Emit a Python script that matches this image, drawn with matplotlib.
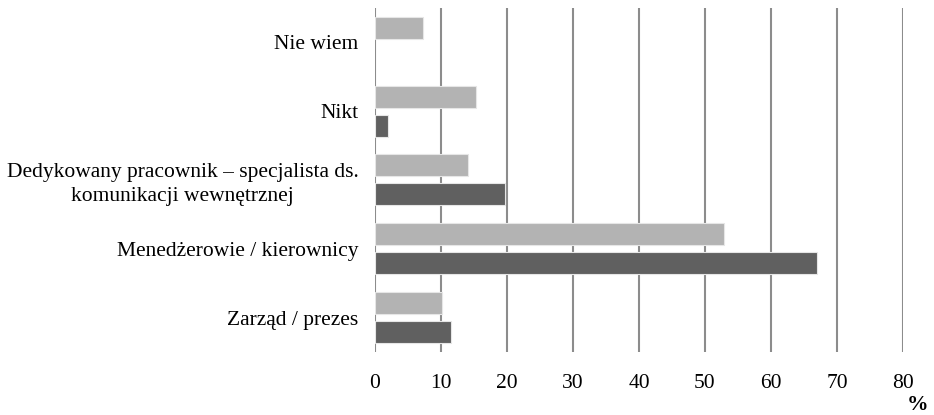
import matplotlib.pyplot as plt
import numpy as np

plt.rcParams["font.family"] = ["Liberation Serif", "DejaVu Serif"]

categories = [
    "Zarząd / prezes",
    "Menedżerowie / kierownicy",
    "Dedykowany pracownik – specjalista ds.\nkomunikacji wewnętrznej",
    "Nikt",
    "Nie wiem",
]
light = [10.2, 52.9, 14.1, 15.3, 7.3]
dark = [11.5, 67.0, 19.7, 2.0, 0.0]
ticks = [0, 10, 20, 30, 40, 50, 60, 70, 80]

fig = plt.figure(figsize=(9.34, 4.15), dpi=100)
ax = fig.add_axes([0.4015, 0.152, 0.5653, 0.829])

y = np.arange(len(categories))
h = 0.32
lw_dark = [0.8 if v > 0 else 0 for v in dark]
ax.barh(y + 0.21, light, height=h, color="#b3b3b3", edgecolor="#e6e6e6", linewidth=0.8, zorder=3)
ax.barh(y - 0.21, dark, height=h, color="#606060", edgecolor="#e6e6e6", linewidth=lw_dark, zorder=3)

ax.set_xlim(0, 80)
ax.set_ylim(-0.5, len(categories) - 0.5)
ax.set_xticks(ticks)
ax.set_xticklabels([str(t) for t in ticks], fontsize=15.5)
ax.set_yticks(y)
ax.set_yticklabels(categories, fontsize=15.5, multialignment="center", linespacing=1.35)
ax.tick_params(axis="y", length=0, pad=12)
ax.tick_params(axis="x", length=0, pad=16)
ax.grid(axis="x", color="#8c8c8c", linewidth=1.5, zorder=0)
for s in ax.spines.values():
    s.set_visible(False)

fig.text(0.9936, 0.012, "%", fontsize=15.5, fontweight="bold", ha="right", va="baseline")

fig.savefig("out.png", dpi=100)
